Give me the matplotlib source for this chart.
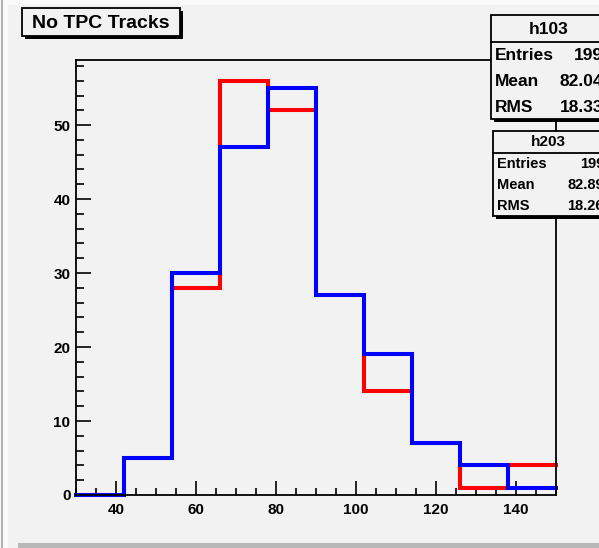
import numpy as np
import matplotlib
matplotlib.use("Agg")
import matplotlib.pyplot as plt
from matplotlib.patches import Rectangle
from matplotlib.ticker import MultipleLocator

plt.rcParams['font.family'] = ['Liberation Sans', 'DejaVu Sans']
plt.rcParams['font.weight'] = 'bold'

# histogram content, 10 bins of width 12 from 30 to 150
edges = np.arange(30, 151, 12)
h103 = [0, 5, 28, 56, 52, 27, 14, 7, 1, 4]
h203 = [0, 5, 30, 47, 55, 27, 19, 7, 4, 1]

title = "No TPC Tracks"
stats103 = [("Entries", "199"), ("Mean", "82.04"), ("RMS", "18.33")]
stats203 = [("Entries", "199"), ("Mean", "82.89"), ("RMS", "18.26")]

W, H = 599, 548
bg = '#f2f2f2'
fig = plt.figure(figsize=(W / 100, H / 100), dpi=100, facecolor=bg)

# frame in pixel units
def px_axes(l, t, r, b):
    return fig.add_axes([l / W, 1 - b / H, (r - l) / W, (b - t) / H])


def outline(ax, edges, vals, **kw):
    # histogram outline without the closing verticals at the range ends
    xs = np.repeat(edges, 2)[1:-1]
    ys = np.repeat(vals, 2)
    ax.plot(xs, ys, solid_joinstyle='miter', clip_on=False, **kw)


ax = px_axes(76, 60, 556, 495)
ax.set_facecolor(bg)
outline(ax, edges, h103, color='#ff0000', lw=2.9, zorder=3)
outline(ax, edges, h203, color='#0000ff', lw=2.9, zorder=4)
ax.set_xlim(30, 150)
ax.set_ylim(0, 58.8)

ax.xaxis.set_major_locator(MultipleLocator(20))
ax.xaxis.set_minor_locator(MultipleLocator(5))
ax.yaxis.set_major_locator(MultipleLocator(10))
ax.yaxis.set_minor_locator(MultipleLocator(2))
ax.tick_params(axis='x', which='major', direction='in', length=10, width=1.2,
               labelsize=11, pad=6)
ax.tick_params(axis='x', which='minor', direction='in', length=5, width=1.2)
ax.tick_params(axis='y', which='major', direction='in', length=11, width=1.2,
               labelsize=11, pad=4)
ax.tick_params(axis='y', which='minor', direction='in', length=6, width=1.2)
for s in ax.spines.values():
    s.set_linewidth(1.3)
    s.set_color('black')
    s.set_zorder(6)

# overlay for the canvas decorations, in pixel coordinates
ov = fig.add_axes([0, 0, 1, 1], zorder=10)
ov.set_xlim(0, W)
ov.set_ylim(H, 0)
ov.axis('off')
ov.patch.set_alpha(0)

ov.add_patch(Rectangle((0, 0), 8, H, color='#fafafa', lw=0))
ov.add_patch(Rectangle((0, 0), W, 5, color='#fafafa', lw=0))
ov.add_patch(Rectangle((1, 0), 1.8, H, color='#b0b0b0', lw=0))
ov.add_patch(Rectangle((18, 543), W - 18, 5, color='#b8b8b8', lw=0))


def shadow_box(x0, y0, x1, y1, lw=1.3, sh=3):
    ov.add_patch(Rectangle((x0 + sh, y0 + sh), x1 - x0, y1 - y0,
                           facecolor='black', edgecolor='black', lw=0))
    ov.add_patch(Rectangle((x0, y0), x1 - x0, y1 - y0,
                           facecolor=bg, edgecolor='black', lw=lw))


# title box
shadow_box(22, 8, 180, 36)
ov.text(101, 23, title, ha='center', va='center', fontsize=14, weight='bold')

# stats box h103
shadow_box(491, 15, 640, 119)
ov.plot([491, 640], [42, 42], color='black', lw=1.3)
ov.text(549, 29, "h103", ha='center', va='center', fontsize=12.5)
for i, (k, v) in enumerate(stats103):
    y = 56 + i * 26
    ov.text(495, y, k, ha='left', va='center', fontsize=12.5)
    ov.text(603, y, v, ha='right', va='center', fontsize=12.5)

# stats box h203
shadow_box(493, 131, 640, 216)
ov.plot([493, 640], [153, 153], color='black', lw=1.3)
ov.text(548, 142, "h203", ha='center', va='center', fontsize=11)
for i, (k, v) in enumerate(stats203):
    y = 164 + i * 21
    ov.text(497, y, k, ha='left', va='center', fontsize=10.5)
    ov.text(604, y, v, ha='right', va='center', fontsize=10.5)

fig.savefig("out.png", dpi=100, facecolor=bg)
